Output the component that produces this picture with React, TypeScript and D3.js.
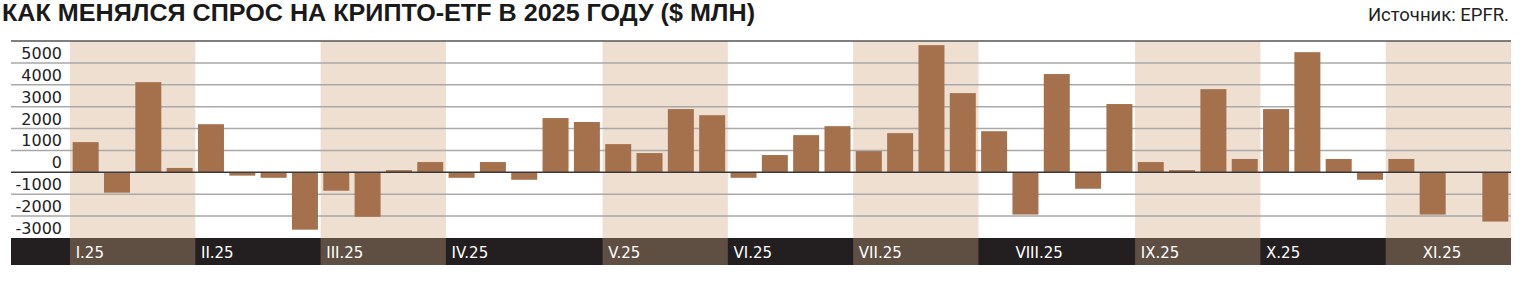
import React from "react";
import * as d3 from "d3";

// Months and weekly values ($ mln)
const months = ["I.25", "II.25", "III.25", "IV.25", "V.25", "VI.25", "VII.25", "VIII.25", "IX.25", "X.25", "XI.25"];
const weeksPerMonth = [4, 4, 4, 5, 4, 4, 4, 5, 4, 4, 4];
const labelWeek = [0, 0, 0, 0, 0, 0, 0, 1, 0, 0, 1];
const flows: (number | null)[] = [
  1380, -930, 4120, 200,
  2200, -150, -250, -2620,
  -840, -2030, 100, 470,
  -250, 470, -340, 2480, 2300,
  1290, 880, 2890, 2610,
  -250, 790, 1700, 2110,
  970, 1790, 5810, 3620,
  1880, -1930, 4490, -750, 3120,
  470, 100, 3800, 610,
  2890, 5490, 610, -340,
  610, -1930, null, -2250,
];
const yTicks = [5000, 4000, 3000, 2000, 1000, 0, -1000, -2000, -3000];
const title = "КАК МЕНЯЛСЯ СПРОС НА КРИПТО-ETF В 2025 ГОДУ ($ МЛН)";
const source = "Источник: EPFR.";

export default function App() {
  const W = 1520, H = 282;
  const left = 11, right = 1511, top = 41, plotBottom = 238, bandBottom = 265;
  const idx = flows.map((_, i) => i);
  const x = d3.scaleBand<number>().domain(idx).range([70, right]).paddingInner(0.17).paddingOuter(0.085);
  const y = d3.scaleLinear().domain([-3000, 6000]).range([plotBottom, top]);
  const step = x.step();
  const gap = (step - x.bandwidth()) / 2;

  let start = 0;
  const monthSpans = months.map((m, i) => {
    const first = start;
    const last = start + weeksPerMonth[i] - 1;
    start += weeksPerMonth[i];
    const x0 = x(first)! - gap;
    const x1 = i === months.length - 1 ? right : x(last)! + x.bandwidth() + gap;
    const lx = x(first + labelWeek[i])! + 3;
    return { m, x0, x1, shaded: i % 2 === 0, lx };
  });

  const font = "'DejaVu Sans', sans-serif";
  return (
    <svg width={W} height={H} style={{ position: "absolute", left: 0, top: 0 }}>
      <rect x={0} y={0} width={W} height={H} fill="#fff" />
      <text x={2} y={21} fontFamily="'Liberation Sans', Arial, sans-serif" fontWeight={700} fontSize={23}
        textLength={753} lengthAdjust="spacingAndGlyphs" fill="#1a1a1a">{title}</text>
      <text x={1509} y={21} textAnchor="end" fontFamily="Roboto, sans-serif" fontSize={18.5} fill="#222">{source}</text>

      {monthSpans.filter(s => s.shaded).map(s => (
        <rect key={"sh" + s.m} x={s.x0} y={top} width={s.x1 - s.x0} height={plotBottom - top} fill="#EFDFD1" />
      ))}

      {yTicks.map(t => (
        <g key={t}>
          {t !== 0 && t !== -3000 && (
            <line x1={left} x2={right} y1={y(t)} y2={y(t)} stroke="#A9A9A9" strokeWidth={1.5} />
          )}
          <text x={62} y={y(t) - 4} textAnchor="end" fontFamily={font} fontSize={16} fill="#222">{t}</text>
        </g>
      ))}

      {flows.map((v, i) => v === null ? null : (
        <rect key={i} x={x(i)} y={y(Math.max(0, v))} width={x.bandwidth()}
          height={Math.abs(y(v) - y(0))} fill="#A5714D" />
      ))}

      <line x1={left} x2={right} y1={y(0)} y2={y(0)} stroke="#3A3A3A" strokeWidth={1.5} />
      <line x1={left} x2={right} y1={top} y2={top} stroke="#555" strokeWidth={1.5} />

      <rect x={left} y={plotBottom} width={right - left} height={bandBottom - plotBottom} fill="#231F20" />
      {monthSpans.filter(s => s.shaded).map(s => (
        <rect key={"bd" + s.m} x={s.x0} y={plotBottom} width={s.x1 - s.x0} height={bandBottom - plotBottom} fill="#5E4F42" />
      ))}
      {monthSpans.map(s => (
        <text key={"l" + s.m} x={s.lx} y={257.5} fontFamily={font} fontSize={15} fill="#fff">{s.m}</text>
      ))}
    </svg>
  );
}
